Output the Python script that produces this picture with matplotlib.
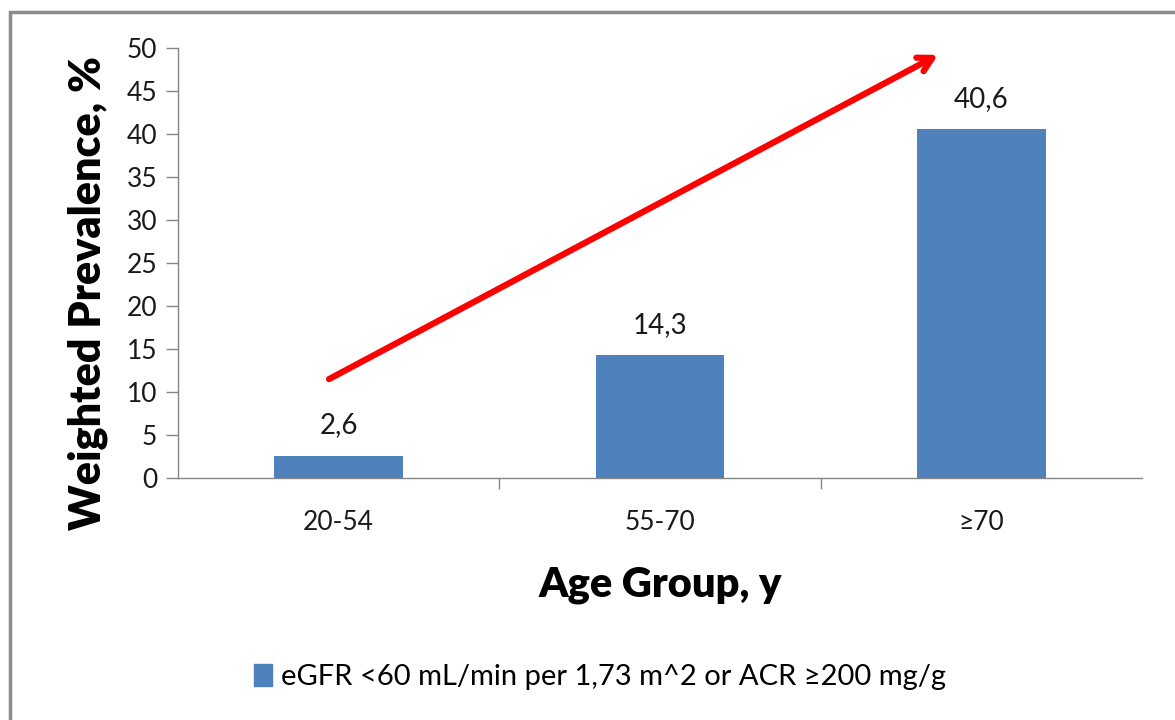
import matplotlib
matplotlib.use("Agg")
import matplotlib.pyplot as plt
from matplotlib.patches import Rectangle, Patch

categories = ["20-54", "55-70", "\u226570"]
values = [2.6, 14.3, 40.6]
value_labels = ["2,6", "14,3", "40,6"]
y_ticks = [0, 5, 10, 15, 20, 25, 30, 35, 40, 45, 50]
legend_label = "eGFR <60 mL/min per 1,73 m^2 or ACR \u2265200 mg/g"

plt.rcParams['font.family'] = ['Lato', 'DejaVu Sans']

W, H = 1175, 720
fig = plt.figure(figsize=(W / 100, H / 100), dpi=100)
fig.patch.set_facecolor("white")

# outer border (partly cropped in the reference)
fig.patches.append(Rectangle((10 / W, -0.05), 1.1, (H - 12) / H + 0.05,
                             transform=fig.transFigure, fill=False,
                             edgecolor="#8c8c8c", linewidth=2.5))

ax = fig.add_axes([178 / W, (H - 478) / H, (1142 - 178) / W, (478 - 48) / H])
x = list(range(len(categories)))
bar_color = "#4f81bd"
ax.bar(x, values, width=0.4, color=bar_color, zorder=2)

for xi, v, lab in zip(x, values, value_labels):
    ax.text(xi, v + 2.0, lab, ha="center", va="bottom", fontsize=20, color="#1a1a1a")

ax.set_xlim(-0.5, len(categories) - 0.5)
ax.set_ylim(0, 50)
ax.set_yticks(y_ticks)
ax.set_yticklabels([str(t) for t in y_ticks], fontsize=19, color="#1a1a1a")
ax.set_xticks(x)
ax.set_xticklabels(categories, fontsize=19, color="#1a1a1a")
ax.tick_params(axis="x", length=0, pad=23)
ax.set_xticks([0.5, 1.5], minor=True)
ax.tick_params(axis="x", which="minor", length=8, color="#868686", width=1)
ax.tick_params(axis="y", length=9, color="#868686", width=1, pad=6)

for s in ["top", "right"]:
    ax.spines[s].set_visible(False)
for s in ["left", "bottom"]:
    ax.spines[s].set_color("#868686")
    ax.spines[s].set_linewidth(1)

ax.set_ylabel("Weighted Prevalence, %", fontsize=31, fontweight="heavy")
ax.yaxis.set_label_coords((108 - 178) / 964, (478 - 293) / 430)
ax.set_xlabel("Age Group, y", fontsize=30, fontweight="heavy", labelpad=22)

# trend arrow
ax.annotate("", xy=(1.865, 49.2), xytext=(-0.03, 11.5),
            arrowprops=dict(arrowstyle="->,head_length=1.0,head_width=0.55",
                            color="#ff0000", lw=4.5, shrinkA=0, shrinkB=0),
            annotation_clip=False, zorder=3)

leg = fig.legend(handles=[Patch(color=bar_color, label=legend_label)],
                 loc="center", bbox_to_anchor=(600 / W, (H - 677) / H),
                 frameon=False, fontsize=21, handlelength=0.6, handleheight=0.8,
                 handletextpad=0.3)

fig.savefig("out.png", dpi=100)
